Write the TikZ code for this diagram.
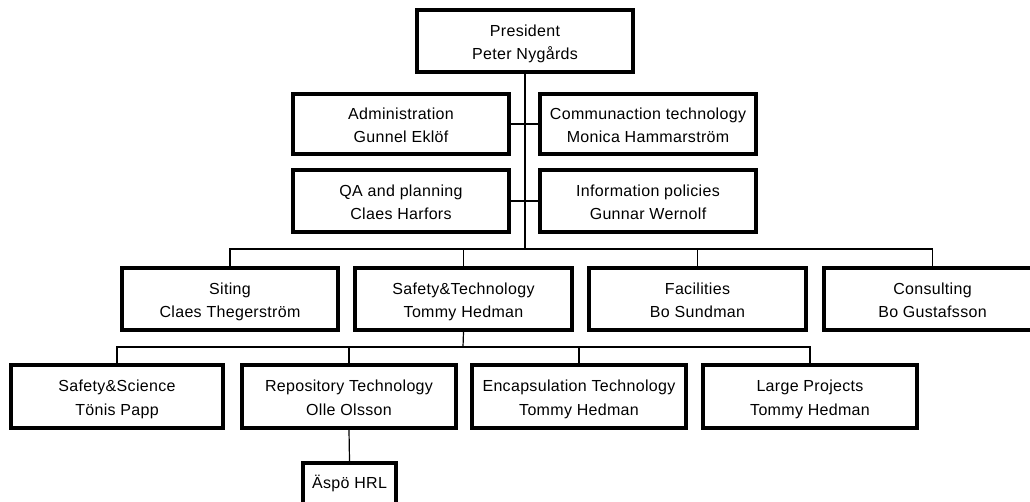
\documentclass[tikz,border=0pt]{standalone}
\usepackage{fontspec}
\setmainfont{Liberation Sans}[LetterSpace=2.0]
\newcommand\dstrut{\rule[-4pt]{0pt}{12pt}}
\tikzset{
  orgbox/.style={draw=black, line width=4pt, inner sep=0pt},
  lbl/.style={inner sep=0pt, align=center, font=\fontsize{16}{23.5}\selectfont},
  conn/.style={draw=black, line width=1.2pt}
}
\begin{document}
\begin{tikzpicture}[x=1pt, y=-1pt]
\useasboundingbox (0,0) rectangle (1030,501);
% boxes
\node[orgbox, minimum width=216pt, minimum height=62pt] (pres) at (525,41) {};
\node[orgbox, minimum width=216pt, minimum height=60pt] (admin) at (401,124) {};
\node[orgbox, minimum width=216pt, minimum height=60pt] (comm) at (648,124) {};
\node[orgbox, minimum width=216pt, minimum height=62pt] (qa) at (401,201) {};
\node[orgbox, minimum width=216pt, minimum height=62pt] (info) at (648,201) {};
\node[orgbox, minimum width=216pt, minimum height=62pt] (siting) at (230,299) {};
\node[orgbox, minimum width=217pt, minimum height=62pt] (st) at (463.5,299) {};
\node[orgbox, minimum width=217pt, minimum height=62pt] (fac) at (697.5,299) {};
\node[orgbox, minimum width=217pt, minimum height=62pt] (cons) at (932.5,299) {};
\node[orgbox, minimum width=212pt, minimum height=63pt] (ss) at (117,396.5) {};
\node[orgbox, minimum width=214pt, minimum height=63pt] (rep) at (349,396.5) {};
\node[orgbox, minimum width=214pt, minimum height=63pt] (enc) at (579,396.5) {};
\node[orgbox, minimum width=214pt, minimum height=63pt] (lp) at (810,396.5) {};
\node[orgbox, minimum width=93pt, minimum height=42pt] (aspo) at (349.5,484) {};
% texts
\node[lbl] at ([yshift=-3pt]pres.center) {\dstrut President\\\dstrut Peter Nygårds};
\node[lbl] at ([yshift=-3pt]admin.center) {\dstrut Administration\\\dstrut Gunnel Eklöf};
\node[lbl] at ([yshift=-3pt]comm.center) {\dstrut Communaction technology\\\dstrut Monica Hammarström};
\node[lbl] at ([yshift=-3pt]qa.center) {\dstrut QA and planning\\\dstrut Claes Harfors};
\node[lbl] at ([yshift=-3pt]info.center) {\dstrut Information policies\\\dstrut Gunnar Wernolf};
\node[lbl] at ([yshift=-3pt]siting.center) {\dstrut Siting\\\dstrut Claes Thegerström};
\node[lbl] at ([yshift=-3pt]st.center) {\dstrut Safety\&Technology\\\dstrut Tommy Hedman};
\node[lbl] at ([yshift=-3pt]fac.center) {\dstrut Facilities\\\dstrut Bo Sundman};
\node[lbl] at ([yshift=-3pt]cons.center) {\dstrut Consulting\\\dstrut Bo Gustafsson};
\node[lbl] at ([yshift=-3pt]ss.center) {\dstrut Safety\&Science\\\dstrut Tönis Papp};
\node[lbl] at ([yshift=-3pt]rep.center) {\dstrut Repository Technology\\\dstrut Olle Olsson};
\node[lbl] at ([yshift=-3pt]enc.center) {\dstrut Encapsulation Technology\\\dstrut Tommy Hedman};
\node[lbl] at ([yshift=-3pt]lp.center) {\dstrut Large Projects\\\dstrut Tommy Hedman};
\node[lbl] at (aspo.center |- 0,484) {\dstrut Äspö HRL};
% connectors
\coordinate (j1) at (525,249);
\coordinate (j2) at (463,347);
\draw[conn] (pres.south) -- (j1);
\draw[conn] (admin.east) -- (comm.west);
\draw[conn] (qa.east) -- (info.west);
\draw[conn] (siting.north) -- (siting.north |- j1) -- (cons.north |- j1) -- (cons.north);
\draw[conn] (st.north) -- (st.north |- j1);
\draw[conn] (fac.north) -- (fac.north |- j1);
\draw[conn] (st.south) -- (j2);
\draw[conn] (ss.north) -- (ss.north |- j2) -- (lp.north |- j2) -- (lp.north);
\draw[conn] (rep.north) -- (rep.north |- j2);
\draw[conn] (enc.north) -- (enc.north |- j2);
\draw[conn] (rep.south) -- (aspo.north);
\end{tikzpicture}
\end{document}
